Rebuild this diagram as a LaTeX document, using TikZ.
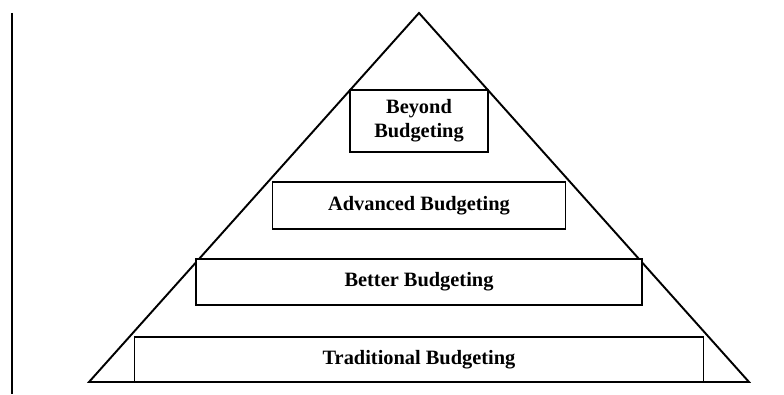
\documentclass[tikz,border=0pt]{standalone}
\usepackage{fontspec}
\setmainfont{Liberation Serif}
\usepackage{tikz}
\usetikzlibrary{calc,positioning}
\tikzset{
    level/.style={
    rectangle,draw=black,line width=1pt,fill=white,inner sep=0pt,outer sep=0pt,
    minimum height=0.92cm,align=center,
    font=\fontsize{11.6}{13.7}\selectfont\bfseries
    },
    frame/.style={
    draw=black,line width=1.1pt,line join=miter
    },
}
\begin{document}
\begin{tikzpicture}
  \useasboundingbox (0,0) rectangle (15.68,7.88);
  \coordinate (TOP) at (8.38,7.62);
  \coordinate (BL) at (1.78,0.24);
  \coordinate (BR) at (14.98,0.24);
  \coordinate (RT) at (0.24,7.62);
  \coordinate (RB) at (0.24,0);

  % pyramid outline
  \draw[frame] (BL) -- (TOP) -- (BR) -- cycle;
  \draw[line width=1.4pt] (RT) -- (RB);

  \node[level,minimum width=11.38cm,minimum height=0.9cm] (TRAD) at (8.38,0.69) {Traditional Budgeting};
  \node[level,minimum width=8.92cm] (BETTER) at (8.38,2.24) {Better Budgeting};
  \node[level,minimum width=5.86cm,minimum height=0.94cm] (ADV) at (8.38,3.77) {Advanced Budgeting};
  \node[level,minimum width=2.76cm,minimum height=1.24cm] (BEYOND) at (8.38,5.46) {Beyond\\Budgeting};

  \draw[frame] (BL) -- (BR);
\end{tikzpicture}
\end{document}
